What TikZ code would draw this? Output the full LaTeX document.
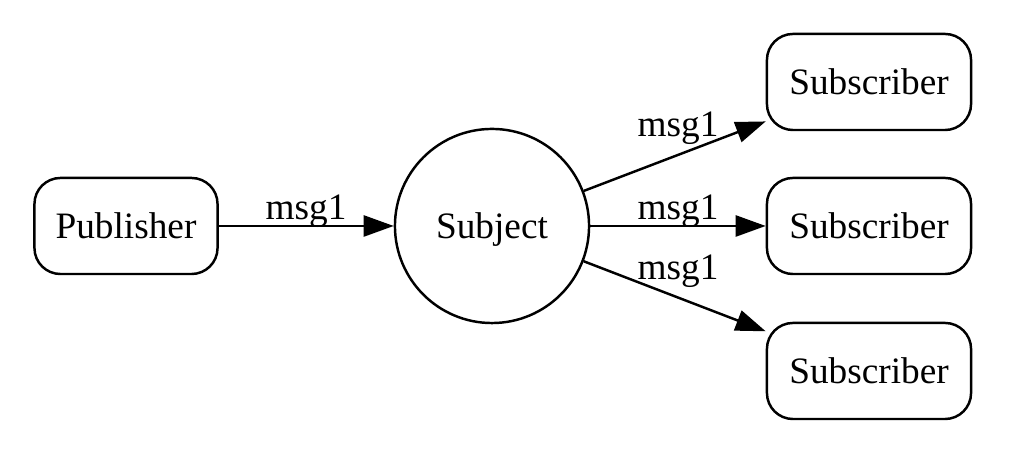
\documentclass[tikz,border=0pt]{standalone}
\usepackage{fontspec}
\setmainfont{Liberation Serif}
\usetikzlibrary{arrows.meta, positioning}

\begin{document}
\begin{tikzpicture}[
    x=0.01cm, y=-0.01cm,
    line width=0.7pt,
    font=\fontsize{10.6}{12}\selectfont,
    party/.style={rectangle, rounded corners=0.26cm, draw=black, minimum width=1.83cm, minimum height=0.96cm, inner sep=0pt},
    hub/.style={circle, draw=black, minimum size=1.94cm, inner sep=0pt, text depth=0pt},
    msg/.style={anchor=base, inner sep=0pt},
    >={Triangle[length=0.3cm, width=0.21cm]}
]
\useasboundingbox (0,0) rectangle (1018,456);

% Nodes
\node[party] (pub) at (126, 226) {Publisher};
\node[hub] (subj) at (492, 226) {Subject};
\node[party, minimum width=2.04cm] (sub1) at (869, 82) {Subscriber};
\node[party, minimum width=2.04cm] (sub2) at (869, 226) {Subscriber};
\node[party, minimum width=2.04cm] (sub3) at (869, 371) {Subscriber};

% Edges
\draw[->] (pub) -- (subj);
\foreach \s in {sub1, sub2, sub3}
    \draw[->] (subj) -- (\s);

% Edge labels
\node[msg] (lbl0) at (306, 220) {msg1};
\node[msg] (lbl1) at (678, 137) {msg1};
\node[msg] (lbl2) at (678, 220) {msg1};
\node[msg] (lbl3) at (678, 280) {msg1};

\end{tikzpicture}
\end{document}
